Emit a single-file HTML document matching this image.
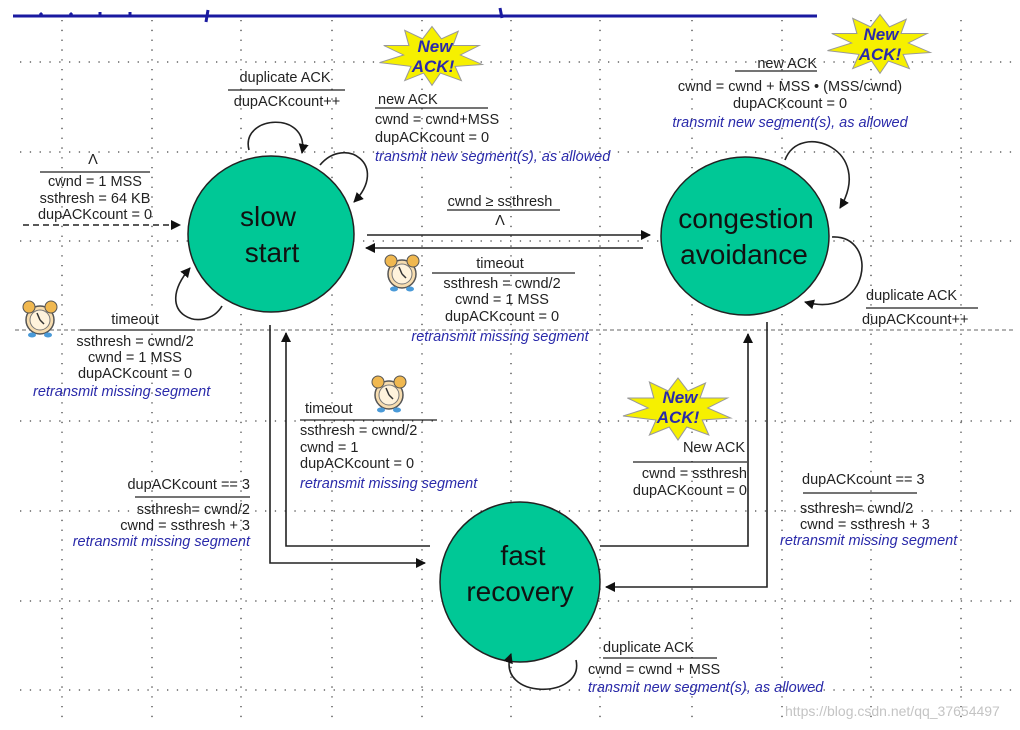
<!DOCTYPE html>
<html><head><style>
html,body{margin:0;padding:0;background:#fff}
svg{display:block}
text{font-family:"Liberation Sans",sans-serif;font-size:14.5px;fill:#222}
.b{fill:#2a2aaa;font-style:italic}
.c{font-size:28px;fill:#111}
</style></head><body>
<svg width="1020" height="730" viewBox="0 0 1020 730">
<defs>
<marker id="a" markerWidth="10" markerHeight="10" refX="9" refY="5" orient="auto" markerUnits="userSpaceOnUse"><path d="M0,0 L10,5 L0,10 z" fill="#111"/></marker>
<g id="burst"><polygon points="0,-30 9,-17 25,-25 20,-10 45,-10 27,0 48,10 22,12 28,27 8,19 0,32 -8,19 -26,27 -20,12 -50,8 -27,0 -46,-10 -22,-10 -26,-26 -9,-17" fill="#f6f000" stroke="#999" stroke-width="1"/></g>
<g id="clock"><circle cx="0" cy="2" r="14" fill="#f7ddb0" stroke="#555" stroke-width="1.5"/><circle cx="-11" cy="-11" r="6" fill="#f0b850" stroke="#555"/><circle cx="11" cy="-11" r="6" fill="#f0b850" stroke="#555"/><circle cx="0" cy="2" r="10" fill="#fff3dc" stroke="#777"/><path d="M0,2 L-3,-5 M0,2 L4,6" stroke="#333" stroke-width="1.5"/><ellipse cx="-8" cy="17" rx="4" ry="2.5" fill="#4a9ad8"/><ellipse cx="8" cy="17" rx="4" ry="2.5" fill="#4a9ad8"/></g>
</defs>
<g stroke="#444" stroke-width="1.3" stroke-dasharray="1.3,8.5">
<line x1="62" y1="20" x2="62" y2="720"/><line x1="152" y1="20" x2="152" y2="720"/><line x1="241" y1="20" x2="241" y2="720"/><line x1="332" y1="20" x2="332" y2="720"/><line x1="422" y1="20" x2="422" y2="720"/><line x1="511" y1="20" x2="511" y2="720"/><line x1="600" y1="20" x2="600" y2="720"/><line x1="692" y1="20" x2="692" y2="720"/><line x1="782" y1="20" x2="782" y2="720"/><line x1="871" y1="20" x2="871" y2="720"/><line x1="961" y1="20" x2="961" y2="720"/>
<line x1="20" y1="62" x2="1015" y2="62"/><line x1="20" y1="152" x2="1015" y2="152"/><line x1="20" y1="241" x2="1015" y2="241"/><line x1="20" y1="421" x2="1015" y2="421"/><line x1="20" y1="511" x2="1015" y2="511"/><line x1="20" y1="601" x2="1015" y2="601"/><line x1="20" y1="690" x2="1015" y2="690"/>
</g>
<line x1="15" y1="330" x2="1015" y2="330" stroke="#666" stroke-width="1" stroke-dasharray="4,3"/>
<line x1="13" y1="16" x2="817" y2="16" stroke="#1a1aa0" stroke-width="3"/>
<path d="M40,13 L42,15 M70,13 L72,15 M100,12 L100,15 M130,12 L130,15 M208,10 L206,22 M500,8 L502,18" stroke="#1a1aa0" stroke-width="3"/>
<ellipse cx="271" cy="234" rx="83" ry="78" fill="#00c896" stroke="#222" stroke-width="1.5"/>
<ellipse cx="745" cy="236" rx="84" ry="79" fill="#00c896" stroke="#222" stroke-width="1.5"/>
<ellipse cx="520" cy="582" rx="80" ry="80" fill="#00c896" stroke="#222" stroke-width="1.5"/>
<text class="c" x="268" y="226" text-anchor="middle">slow</text>
<text class="c" x="272" y="262" text-anchor="middle">start</text>
<text class="c" x="746" y="228" text-anchor="middle">congestion</text>
<text class="c" x="744" y="264" text-anchor="middle">avoidance</text>
<text class="c" x="523" y="565" text-anchor="middle">fast</text>
<text class="c" x="520" y="601" text-anchor="middle">recovery</text>
<g fill="none" stroke="#222" stroke-width="1.6">
<path d="M23,225 L180,225" stroke-dasharray="6,4" marker-end="url(#a)"/>
<path d="M249,150 C240,115 310,110 302,153" marker-end="url(#a)"/>
<path d="M320,165 C345,135 390,165 354,202" marker-end="url(#a)"/>
<path d="M222,306 C205,335 150,315 190,268" marker-end="url(#a)"/>
<path d="M367,235 L650,235" marker-end="url(#a)"/>
<path d="M643,248 L366,248" marker-end="url(#a)"/>
<path d="M785,160 C800,120 875,150 840,208" marker-end="url(#a)"/>
<path d="M832,237 C880,235 870,320 805,302" marker-end="url(#a)"/>
<path d="M270,325 L270,563 L425,563" marker-end="url(#a)"/>
<path d="M430,546 L286,546 L286,333" marker-end="url(#a)"/>
<path d="M600,546 L748,546 L748,334" marker-end="url(#a)"/>
<path d="M767,322 L767,587 L606,587" marker-end="url(#a)"/>
<path d="M576,660 C585,700 495,700 511,654" marker-end="url(#a)"/>
</g>
<g stroke="#222" stroke-width="1.2">
<line x1="228" y1="90" x2="345" y2="90"/><line x1="375" y1="108" x2="488" y2="108"/><line x1="40" y1="172" x2="150" y2="172"/><line x1="80" y1="330" x2="195" y2="330"/><line x1="447" y1="210" x2="560" y2="210"/><line x1="432" y1="273" x2="575" y2="273"/><line x1="735" y1="71" x2="817" y2="71"/><line x1="866" y1="308" x2="978" y2="308"/><line x1="300" y1="420" x2="437" y2="420"/><line x1="135" y1="497" x2="250" y2="497"/><line x1="633" y1="462" x2="747" y2="462"/><line x1="803" y1="493" x2="917" y2="493"/><line x1="603" y1="658" x2="717" y2="658"/>
</g>
<use href="#burst" transform="translate(432,55) scale(1.05,0.95)"/>
<text x="435" y="52" text-anchor="middle" class="b" style="font-weight:bold;font-size:17px">New</text>
<text x="433" y="72" text-anchor="middle" class="b" style="font-weight:bold;font-size:17px">ACK!</text>
<use href="#burst" transform="translate(880,43) scale(1.05,0.95)"/>
<text x="881" y="40" text-anchor="middle" class="b" style="font-weight:bold;font-size:17px">New</text>
<text x="880" y="60" text-anchor="middle" class="b" style="font-weight:bold;font-size:17px">ACK!</text>
<use href="#burst" transform="translate(678,408) scale(1.1,1)"/>
<text x="680" y="403" text-anchor="middle" class="b" style="font-weight:bold;font-size:17px">New</text>
<text x="678" y="423" text-anchor="middle" class="b" style="font-weight:bold;font-size:17px">ACK!</text>
<use href="#clock" transform="translate(40,318)"/>
<use href="#clock" transform="translate(402,272)"/>
<use href="#clock" transform="translate(389,393)"/>
<text x="285" y="82" text-anchor="middle">duplicate ACK</text>
<text x="287" y="106" text-anchor="middle">dupACKcount++</text>
<text x="378" y="104">new ACK</text>
<text x="375" y="124">cwnd = cwnd+MSS</text>
<text x="375" y="142">dupACKcount = 0</text>
<text x="375" y="161" class="b">transmit new segment(s), as allowed</text>
<text x="93" y="164" text-anchor="middle">Λ</text>
<text x="95" y="186" text-anchor="middle">cwnd = 1 MSS</text>
<text x="95" y="203" text-anchor="middle">ssthresh = 64 KB</text>
<text x="95" y="219" text-anchor="middle">dupACKcount = 0</text>
<text x="135" y="324" text-anchor="middle">timeout</text>
<text x="135" y="346" text-anchor="middle">ssthresh = cwnd/2</text>
<text x="135" y="362" text-anchor="middle">cwnd = 1 MSS</text>
<text x="135" y="378" text-anchor="middle">dupACKcount = 0</text>
<text x="33" y="396" class="b">retransmit missing segment</text>
<text x="500" y="206" text-anchor="middle">cwnd ≥ ssthresh</text>
<text x="500" y="225" text-anchor="middle">Λ</text>
<text x="500" y="268" text-anchor="middle">timeout</text>
<text x="502" y="288" text-anchor="middle">ssthresh = cwnd/2</text>
<text x="502" y="304" text-anchor="middle">cwnd = 1 MSS</text>
<text x="502" y="321" text-anchor="middle">dupACKcount = 0</text>
<text x="500" y="341" text-anchor="middle" class="b">retransmit missing segment</text>
<text x="817" y="68" text-anchor="end">new ACK</text>
<text x="790" y="91" text-anchor="middle">cwnd = cwnd + MSS • (MSS/cwnd)</text>
<text x="790" y="108" text-anchor="middle">dupACKcount = 0</text>
<text x="790" y="127" text-anchor="middle" class="b">transmit new segment(s), as allowed</text>
<text x="866" y="300">duplicate ACK</text>
<text x="862" y="324">dupACKcount++</text>
<text x="305" y="413">timeout</text>
<text x="300" y="435">ssthresh = cwnd/2</text>
<text x="300" y="452">cwnd = 1</text>
<text x="300" y="468">dupACKcount = 0</text>
<text x="300" y="488" class="b">retransmit missing segment</text>
<text x="250" y="489" text-anchor="end">dupACKcount == 3</text>
<text x="250" y="514" text-anchor="end">ssthresh= cwnd/2</text>
<text x="250" y="530" text-anchor="end">cwnd = ssthresh + 3</text>
<text x="250" y="546" text-anchor="end" class="b">retransmit missing segment</text>
<text x="745" y="452" text-anchor="end">New ACK</text>
<text x="747" y="478" text-anchor="end">cwnd = ssthresh</text>
<text x="747" y="495" text-anchor="end">dupACKcount = 0</text>
<text x="802" y="484">dupACKcount == 3</text>
<text x="800" y="513">ssthresh= cwnd/2</text>
<text x="800" y="529">cwnd = ssthresh + 3</text>
<text x="780" y="545" class="b">retransmit missing segment</text>
<text x="603" y="652">duplicate ACK</text>
<text x="588" y="674">cwnd = cwnd + MSS</text>
<text x="588" y="692" class="b">transmit new segment(s), as allowed</text>
<text x="785" y="716" style="fill:#c4c4c4;font-size:14px">https://blog.csdn.net/qq_37654497</text>
</svg>
</body></html>
